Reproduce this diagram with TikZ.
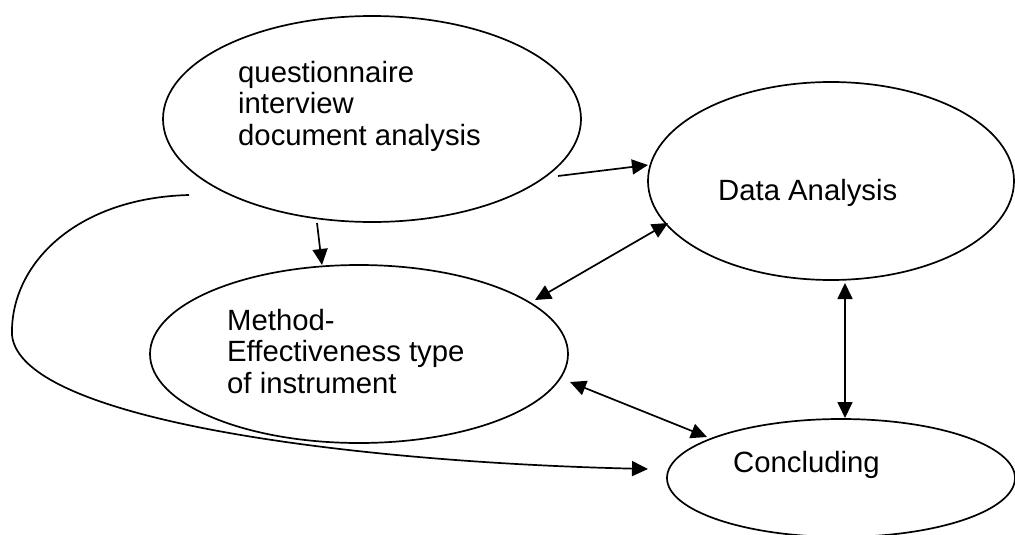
\documentclass[tikz,border=0pt]{standalone}
\usepackage{fontspec}
\setmainfont{Liberation Sans}
\usetikzlibrary{arrows.meta,shapes.geometric}

\tikzset{
  bubble/.style={draw, line width=1.7pt, ellipse, inner sep=0pt},
  label/.style={font=\fontsize{29.3}{31.5}\selectfont, align=left, inner sep=0pt, anchor=base west},
  link/.style={line width=1.7pt, -{Triangle[length=16pt,width=15pt]}},
  twoway/.style={line width=1.7pt, {Triangle[length=16pt,width=15pt]}-{Triangle[length=16pt,width=15pt]}}
}

\begin{document}
\begin{tikzpicture}[x=1pt, y=-1pt]
  \useasboundingbox (0,0) rectangle (1015,535);

  % the four ellipses
  \node[bubble, minimum width=418pt, minimum height=206pt] (src) at (372,119) {};
  \node[bubble, minimum width=366pt, minimum height=198pt] (ana) at (831,181) {};
  \node[bubble, minimum width=418pt, minimum height=178pt] (met) at (359,354) {};
  \node[bubble, minimum width=348pt, minimum height=118pt] (con) at (841,478) {};

  % their texts (base anchor sits on the last line)
  \node[label] (srct) at (238,145) {questionnaire\\interview\\document analysis};
  \node[label] (anat) at (718,200) {Data Analysis};
  \node[label] (mett) at (227,393) {Method-\\Effectiveness type\\of instrument};
  \node[label] (cont) at (733,472) {Concluding};

  % arrow ends beside the ellipses
  \coordinate (srcR) at (558,176);
  \coordinate (anaL) at (648,165);
  \coordinate (srcB) at (317,223);
  \coordinate (metT) at (322,265);
  \coordinate (metR) at (535,300);
  \coordinate (anaLL) at (668,223);
  \coordinate (metBR) at (570,382);
  \coordinate (conTL) at (707,437);
  \coordinate (anaB) at (845,283);
  \coordinate (conT) at (845,418);
  \coordinate (loopA) at (189,195);
  \coordinate (loopL) at (12,335);
  \coordinate (conL) at (648,469);

  % connectors
  \draw[link] (srcR) -- (anaL);
  \draw[link] (srcB) -- (metT);
  \draw[twoway] (metR) -- (anaLL);
  \draw[twoway] (metBR) -- (conTL);
  \draw[twoway] (anaB) -- (conT);
  \draw[link] (loopA) .. controls (75,198) and (10,265) .. (loopL)
              .. controls (20,420) and (350,462) .. (conL);
\end{tikzpicture}
\end{document}
